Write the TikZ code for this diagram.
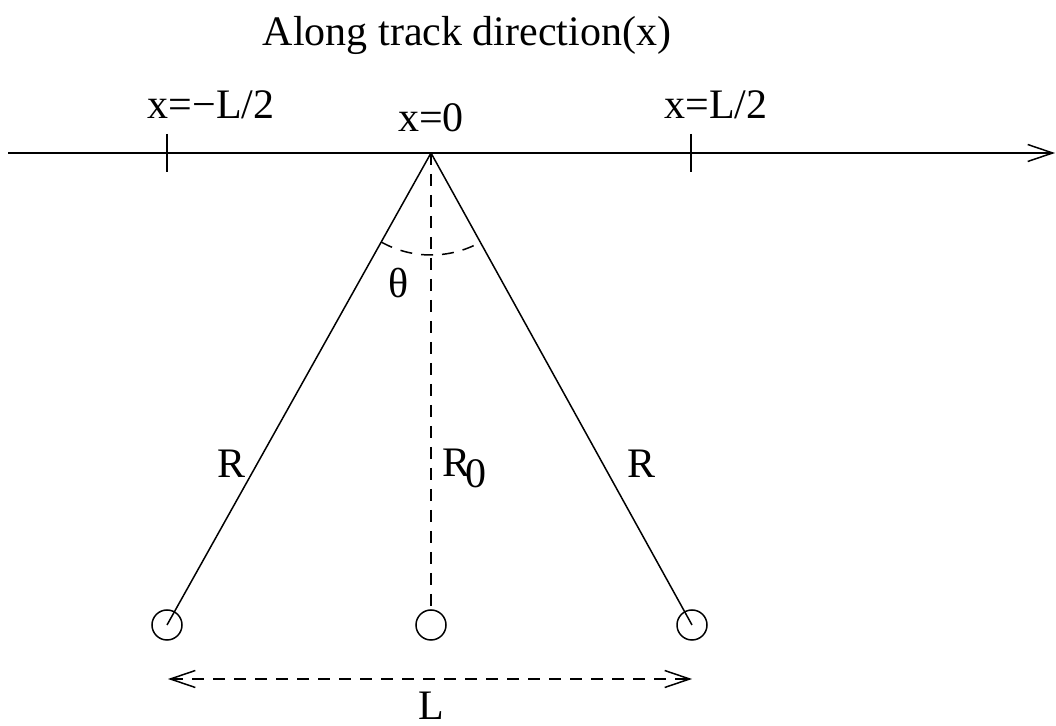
\documentclass[tikz,border=0pt]{standalone}
\usepackage{fontspec}
\setmainfont{Liberation Serif}
\usetikzlibrary{arrows.meta}
\tikzset{barb/.tip={Straight Barb[length=12.5pt,width=8.5pt,line width=0.75pt]}}
\begin{document}
\begin{tikzpicture}[x=0.5pt,y=0.5pt,
  every node/.style={font=\fontsize{21}{25}\selectfont, inner sep=0pt},
  lbl/.style={anchor=base},
  ln/.style={line width=0.75pt},
  dsh/.style={ln, dash pattern=on 6pt off 4.5pt},
  ball/.style={circle, draw, line width=0.75pt, minimum size=15pt}]
\useasboundingbox (0,0) rectangle (1056,-726);
% axis
\coordinate (axl) at (8,-153);
\coordinate (axr) at (1055,-153);
\coordinate (apex) at (431,-153);
\draw[ln, -{barb}] (axl) -- (axr);
% ticks
\coordinate (t1a) at (167,-134); \coordinate (t1b) at (167,-172);
\coordinate (t2a) at (691,-134); \coordinate (t2b) at (691,-172);
\draw[ln] (t1a) -- (t1b);
\draw[ln] (t2a) -- (t2b);
% labels
\node[lbl] (title) at (467,-46) {Along track direction(x)};
\node[lbl] (xl) at (211,-119) {x=−L/2};
\node[lbl] (x0) at (431,-132) {x=0};
\node[lbl] (xr) at (716,-119) {x=L/2};
% circles
\node[ball] (c1) at (167,-625) {};
\node[ball] (c2) at (431,-625) {};
\node[ball] (c3) at (692,-625) {};
% lines
\draw[ln] (apex) -- (c1.center);
\draw[ln] (apex) -- (c3.center);
\draw[dsh] (apex) -- (c2.north);
% arc
\draw[dsh] (apex) ++(240.8:102) arc[start angle=240.8, end angle=298.9, radius=102];
% labels
\node[lbl] (th) at (399,-298) {θ};
\node[lbl] (r1) at (232,-478) {R};
\node[anchor=base west] (r0) at (442,-477) {R\kern-0.12em\raisebox{-5.5pt}{0}};
\node[lbl] (r2) at (642,-478) {R};
% L arrow
\coordinate (la) at (168,-679);
\coordinate (lb) at (692,-679);
\draw[dsh, {barb}-{barb}] (la) -- (lb);
\node[lbl] (L) at (431,-720) {L};
\end{tikzpicture}
\end{document}
